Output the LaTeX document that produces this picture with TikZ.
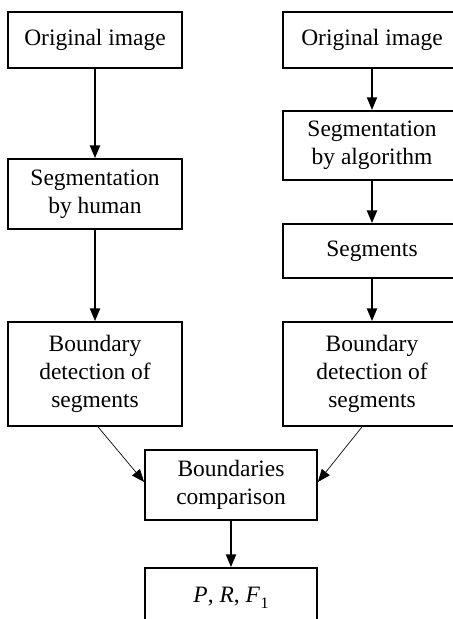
\documentclass[tikz,border=0pt]{standalone}
\usepackage{fontspec}
\setmainfont{Liberation Serif}
\usetikzlibrary{arrows.meta,calc}
\tikzset{
  box/.style={draw, line width=1.3pt, align=center, inner sep=2pt,
    font=\fontsize{17.6}{21}\selectfont},
  flow/.style={line width=1.4pt, -{Triangle[length=9.5pt,width=7.5pt]}},
  merge/.style={line width=0.5pt, -{Triangle[length=9.5pt,width=7.5pt]}}
}
\begin{document}
\begin{tikzpicture}[x=0.75pt,y=-0.75pt]
  \useasboundingbox (0,0) rectangle (453,619);
  \clip (0,0) rectangle (453,619);

  % left column: human segmentation
  \node[box, minimum width=130.5pt, minimum height=42pt] (L1) at (95,40) {Original image};
  \node[box, minimum width=130.5pt, minimum height=52.5pt] (L2) at (95,194) {Segmentation\\by human};
  \node[box, minimum width=130.5pt, minimum height=78pt] (L3) at (95,374) {Boundary\\detection of\\segments};

  % right column: algorithmic segmentation
  \node[box, minimum width=133.5pt, minimum height=42pt] (R1) at (372,40) {Original image};
  \node[box, minimum width=133.5pt, minimum height=52pt] (R2) at (372,145.5) {Segmentation\\by algorithm};
  \node[box, minimum width=133.5pt, minimum height=40.5pt] (R3) at (372,251) {Segments};
  \node[box, minimum width=133.5pt, minimum height=78pt] (R4) at (372,374) {Boundary\\detection of\\segments};

  % comparison and result
  \node[box, minimum width=129pt, minimum height=52.5pt] (C) at (231,485) {Boundaries\\comparison};
  \node[box, minimum width=129pt, minimum height=45pt] (B) at (231,598)
    {{\itshape P}, {\itshape R}, {\itshape F}\kern0.5pt\raisebox{-0.25em}{\fontsize{12}{12}\selectfont 1}};

  \draw[flow] (L1) -- (L2);
  \draw[flow] (L2) -- (L3);
  \draw[flow] (R1) -- (R2);
  \draw[flow] (R2) -- (R3);
  \draw[flow] (R3) -- (R4);
  \draw[merge] ($(L3.south)+(3,0)$) -- ($(C.west)+(0,-3)$);
  \draw[merge] ($(R4.south)+(-10,0)$) -- ($(C.east)+(0,-3)$);
  \draw[flow] (C) -- (B);
\end{tikzpicture}
\end{document}
